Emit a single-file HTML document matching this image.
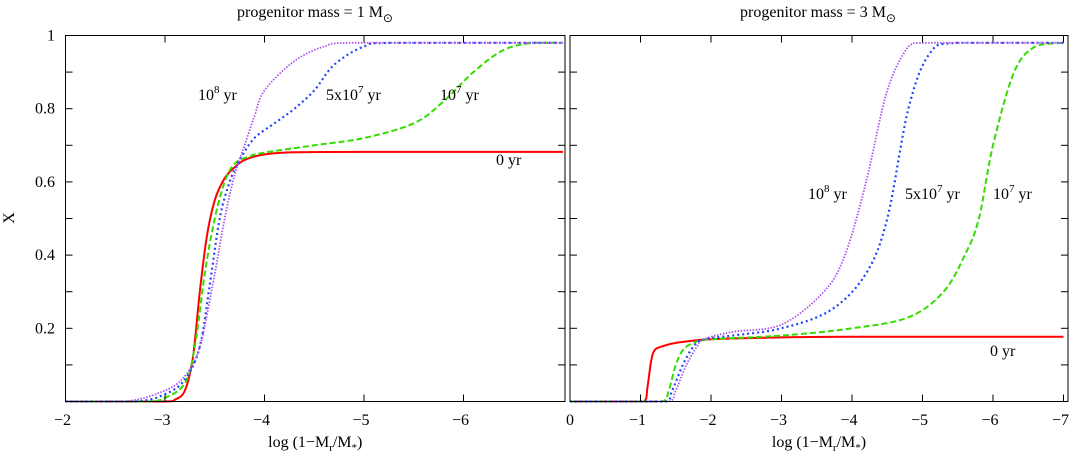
<!DOCTYPE html>
<html><head><meta charset="utf-8"><style>
body{margin:0;background:#fff;}
svg{display:block;font-family:"Liberation Serif",serif;}
</style></head><body>
<svg id="chart" width="1071" height="454"></svg>
<script>
const yTicks=[0.2,0.4,0.6,0.8,1];
const leftXTicks=[-2,-3,-4,-5,-6];
const rightXTicks=[0,-1,-2,-3,-4,-5,-6,-7];
// left panel series (x = log(1-Mr/M*), y = X)
const L_x0=[-2,-3.0,-3.1,-3.2,-3.28,-3.35,-3.42,-3.5,-3.6,-3.7,-3.8,-4.0,-4.3,-5,-7];
const L_y0=[0,0,0.005,0.03,0.12,0.3,0.45,0.55,0.61,0.64,0.66,0.675,0.681,0.682,0.682];
const L_x1=[-2,-2.8,-3.0,-3.2,-3.3,-3.4,-3.5,-3.6,-3.7,-3.85,-4.0,-4.5,-5,-5.5,-5.8,-6.1,-6.4,-6.7,-7];
const L_y1=[0,0,0.01,0.05,0.15,0.35,0.5,0.6,0.65,0.67,0.68,0.70,0.72,0.76,0.82,0.9,0.96,0.98,0.98];
const L_x2=[-2,-2.7,-3.0,-3.2,-3.35,-3.45,-3.55,-3.65,-3.75,-3.9,-4.1,-4.3,-4.5,-4.7,-5.0,-5.3,-7];
const L_y2=[0,0,0.02,0.06,0.15,0.32,0.5,0.6,0.66,0.72,0.76,0.8,0.85,0.92,0.97,0.98,0.98];
const L_x3=[-2,-2.6,-3.0,-3.2,-3.35,-3.5,-3.6,-3.7,-3.8,-3.9,-4.0,-4.3,-4.6,-4.9,-7];
const L_y3=[0,0,0.03,0.07,0.15,0.35,0.5,0.62,0.7,0.78,0.85,0.93,0.97,0.98,0.98];
// right panel series
const R_x0=[0,-1.05,-1.1,-1.15,-1.2,-1.3,-1.5,-2,-3,-4,-7];
const R_y0=[0,0,0.04,0.11,0.14,0.15,0.16,0.17,0.175,0.177,0.177];
const R_x1=[0,-1.3,-1.4,-1.5,-1.6,-1.75,-2,-3,-4,-4.8,-5.3,-5.6,-5.8,-6.0,-6.3,-6.6,-7];
const R_y1=[0,0,0.03,0.1,0.14,0.16,0.17,0.18,0.2,0.23,0.3,0.4,0.5,0.7,0.9,0.97,0.98];
const R_x2=[0,-1.35,-1.45,-1.6,-1.75,-1.9,-2.3,-3,-3.7,-4.2,-4.5,-4.8,-5.1,-5.5,-7];
const R_y2=[0,0,0.03,0.1,0.15,0.17,0.18,0.2,0.25,0.35,0.5,0.8,0.95,0.98,0.98];
const R_x3=[0,-1.4,-1.5,-1.65,-1.8,-1.9,-2.3,-3,-3.6,-3.9,-4.2,-4.5,-4.8,-5.0,-7];
const R_y3=[0,0,0.03,0.1,0.15,0.17,0.19,0.21,0.3,0.4,0.6,0.85,0.97,0.98,0.98];

const NS="http://www.w3.org/2000/svg";
const svg=document.getElementById('chart');
function el(t,a,p){const e=document.createElementNS(NS,t);for(const k in a)e.setAttribute(k,a[k]);(p||svg).appendChild(e);return e;}
const yTop=35.5,yBot=401.5;
const ys=v=>yBot-(yBot-yTop)*v;
const cl=(v,a,b)=>Math.min(Math.max(a,b),Math.max(Math.min(a,b),v));
function smoothPath(P){
 let d='M'+P[0][0].toFixed(1)+','+P[0][1].toFixed(1);
 for(let i=0;i<P.length-1;i++){
  const p0=P[Math.max(i-1,0)],p1=P[i],p2=P[i+1],p3=P[Math.min(i+2,P.length-1)];
  const k=1/6;
  const c1x=cl(p1[0]+(p2[0]-p0[0])*k,p1[0],p2[0]),c1y=cl(p1[1]+(p2[1]-p0[1])*k,p1[1],p2[1]);
  const c2x=cl(p2[0]-(p3[0]-p1[0])*k,p1[0],p2[0]),c2y=cl(p2[1]-(p3[1]-p1[1])*k,p1[1],p2[1]);
  d+=' C'+c1x.toFixed(1)+','+c1y.toFixed(1)+' '+c2x.toFixed(1)+','+c2y.toFixed(1)+' '+p2[0].toFixed(1)+','+p2[1].toFixed(1);
 }
 return d;
}
const panels=[
 {x0:65.5,x1:565,d0:-2,pxu:99.5,ticks:leftXTicks,series:[[L_x0,L_y0],[L_x1,L_y1],[L_x2,L_y2],[L_x3,L_y3]],title:"progenitor mass = 1 M",tx:315,name:"left-panel"},
 {x0:570,x1:1068,d0:0,pxu:70.5,ticks:rightXTicks,series:[[R_x0,R_y0],[R_x1,R_y1],[R_x2,R_y2],[R_x3,R_y3]],title:"progenitor mass = 3 M",tx:818,name:"right-panel"}
];
const styles=[
 {c:"#ff0000",d:"",w:2},
 {c:"#33dd00",d:"6,3",w:2},
 {c:"#2244ff",d:"2,3",w:2.2},
 {c:"#aa55ee",d:"1.5,1.5",w:1.8}
];
const snames=['series-0yr','series-1e7yr','series-5e7yr','series-1e8yr'];
panels.forEach((p,pi)=>{
 const g=el('g',{});
 
 
 const xs=v=>p.x0+(p.d0-v)*p.pxu;
 p.series.forEach((s,i)=>{
  const P=s[0].map((x,j)=>[xs(x),ys(s[1][j])]);
  const pl=el('path',{d:smoothPath(P),fill:'none',stroke:styles[i].c,'stroke-width':styles[i].w,'stroke-dasharray':styles[i].d},g);
  
  
 });
 el('rect',{x:p.x0,y:yTop,width:p.x1-p.x0,height:yBot-yTop,fill:'none',stroke:'#000','stroke-width':1},g);
 p.ticks.forEach(t=>{
  const x=xs(t);
  el('line',{x1:x,x2:x,y1:yBot,y2:yBot-7,stroke:'#000'},g);
  el('line',{x1:x,x2:x,y1:yTop,y2:yTop+7,stroke:'#000'},g);
  const tx=el('text',{x:x-(t<0?3:0),y:425,'font-size':16,'text-anchor':'middle'},g);
  tx.textContent=t<0?'\u2212'+(-t):String(t);
  
  
 });
 [0.1,0.2,0.3,0.4,0.5,0.6,0.7,0.8,0.9].forEach(v=>{
  el('line',{x1:p.x0,x2:p.x0+7,y1:ys(v),y2:ys(v),stroke:'#000'},g);
  el('line',{x1:p.x1,x2:p.x1-7,y1:ys(v),y2:ys(v),stroke:'#000'},g);
 });
 const xl=el('text',{x:(p.x0+p.x1)/2,y:447,'font-size':16,'text-anchor':'middle'},g);
 xl.innerHTML='log (1\u2212M<tspan font-size="11" dy="4">r</tspan><tspan dy="-4">/M</tspan><tspan font-size="11" dy="4">*</tspan><tspan dy="-4">)</tspan>';
 
 
 const tt=el('text',{x:p.tx,y:17,'font-size':16,'text-anchor':'middle'},g);
 tt.innerHTML=p.title+'<tspan font-size="12" dy="5">\u2299</tspan>';
 
 
});
yTicks.forEach(v=>{
 const t=el('text',{x:55,y:ys(v)+5,'font-size':16,'text-anchor':'end'});
 t.textContent=String(v);
 
 
});
const yl=el('text',{x:0,y:0,'font-size':16,'text-anchor':'middle',transform:'translate(14,218) rotate(-90)'});
yl.textContent='X';


const labels=[
 [198,100,'10','8',' yr'],[326,100,'5x10','7',' yr'],[440,100,'10','7',' yr'],[496,165,'0 yr','',''],
 [808,199,'10','8',' yr'],[905,199,'5x10','7',' yr'],[993,199,'10','7',' yr'],[990,356,'0 yr','','']
];
labels.forEach(l=>{
 const t=el('text',{x:l[0],y:l[1],'font-size':16});
 t.innerHTML=l[2]+(l[3]?'<tspan font-size="11" dy="-7">'+l[3]+'</tspan><tspan dy="7">'+l[4]+'</tspan>':'');
 
 
});
</script>
</body></html>
